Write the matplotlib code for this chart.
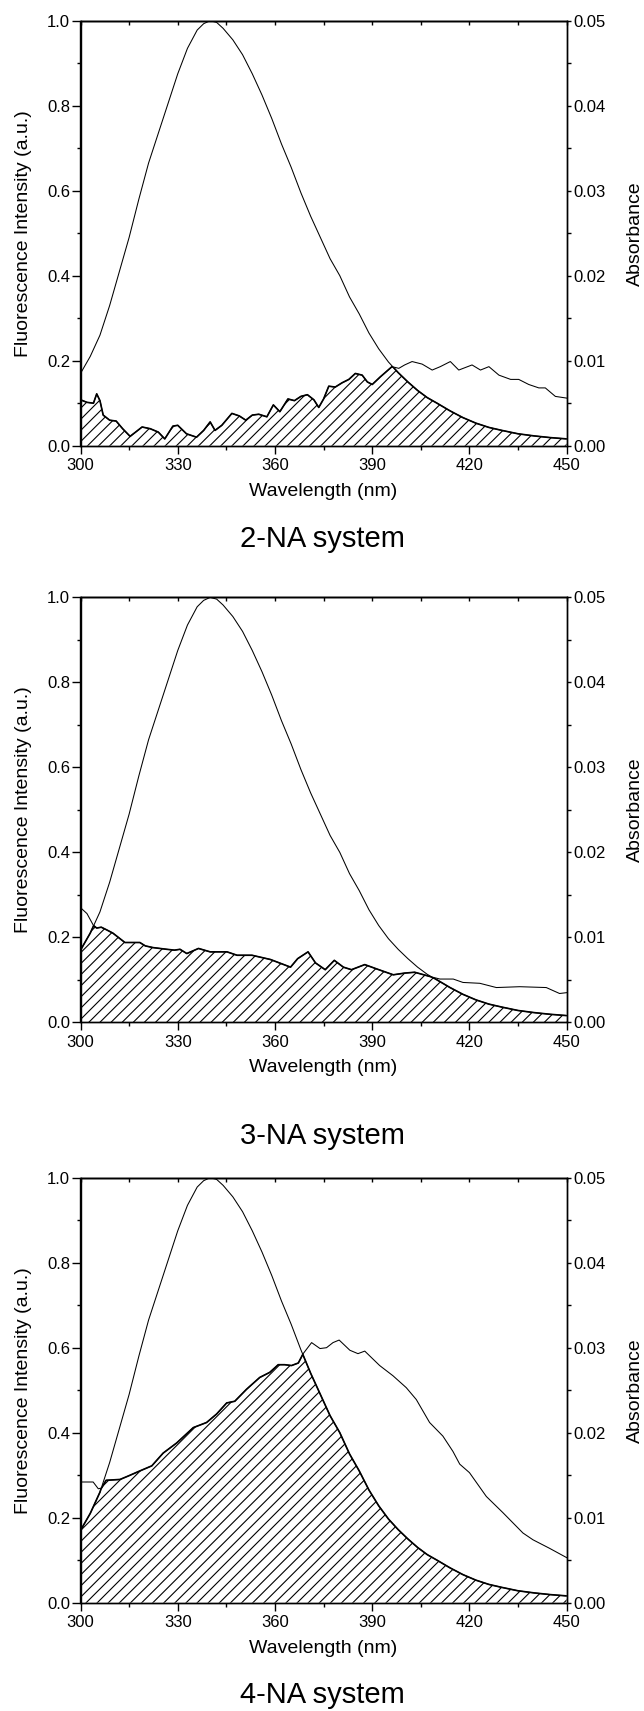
import numpy as np
import matplotlib
matplotlib.use("Agg")
import matplotlib.pyplot as plt
from matplotlib.ticker import MultipleLocator, FormatStrFormatter

plt.rcParams["font.family"] = ["Liberation Sans", "DejaVu Sans"]
plt.rcParams["hatch.linewidth"] = 0.8
plt.rcParams["axes.linewidth"] = 1.0

# donor fluorescence (normalised), same in every panel
wl_fl = [300, 303, 306, 309, 312, 315, 318, 321, 324, 327,
         330, 333, 336, 338, 340, 342, 344, 347, 350, 353,
         356, 359, 362, 365, 368, 371, 374, 377, 380, 383,
         386, 389, 392, 395, 398, 401, 404, 407, 410, 414,
         418, 422, 426, 430, 435, 440, 445, 450]
fluor = [0.17, 0.21, 0.26, 0.33, 0.41, 0.49, 0.58, 0.665, 0.735, 0.805,
         0.875, 0.935, 0.978, 0.993, 1.0, 0.996, 0.982, 0.955, 0.92, 0.875,
         0.825, 0.77, 0.71, 0.655, 0.595, 0.54, 0.49, 0.44, 0.40, 0.35,
         0.31, 0.265, 0.228, 0.197, 0.172, 0.15, 0.13, 0.113, 0.1, 0.082,
         0.066, 0.053, 0.043, 0.036, 0.028, 0.023, 0.019, 0.016]

# acceptor absorbance, 2-NA
wl_2na = [300, 302, 304, 305, 306, 307, 309, 311, 313, 315.3,
          317, 319, 321.5, 324, 326, 328.5, 330, 332.7, 335.8, 338,
          340, 341.5, 343.6, 346.7, 349, 351, 353, 355, 357.5, 359.5,
          361.5, 364, 366, 368, 370, 372, 373.5, 375, 376.6, 378.6,
          380.7, 382.8, 384.8, 386.9, 388.5, 390, 392.5, 396.1, 398.2, 400,
          402.3, 405.4, 408.5, 411, 414.1, 416.7, 420.8, 423.4, 426, 429.1,
          432.7, 435.2, 438.3, 441.4, 443.4, 446.5, 450]
abs_2na = [0.0054, 0.0051, 0.0050, 0.0061, 0.0053, 0.0036, 0.0030, 0.0029, 0.0020, 0.0011,
           0.0016, 0.0022, 0.0020, 0.0016, 0.0008, 0.0023, 0.0024, 0.0014, 0.0010, 0.0018,
           0.0028, 0.0018, 0.0024, 0.0038, 0.0035, 0.0030, 0.0036, 0.0037, 0.0034, 0.0048,
           0.0040, 0.0055, 0.0053, 0.0058, 0.0060, 0.0054, 0.0045, 0.0055, 0.0070, 0.0069,
           0.0074, 0.0078, 0.0085, 0.0083, 0.0075, 0.0072, 0.0081, 0.0093, 0.0091, 0.0095,
           0.0099, 0.0096, 0.0089, 0.0093, 0.0099, 0.0089, 0.0095, 0.0089, 0.0093, 0.0083,
           0.0078, 0.0078, 0.0072, 0.0068, 0.0068, 0.0058, 0.0056]

# acceptor absorbance, 3-NA
wl_3na = [300, 302, 304, 305, 306.4, 308, 310, 313.7, 316, 318.3,
          320, 322.4, 326.6, 329, 330.7, 332.8, 336.4, 340, 345.2, 348.3,
          352.9, 358.6, 364.8, 367, 370.2, 372.5, 375.5, 378.3, 381.1, 383.6,
          387.7, 391.3, 396.5, 400, 403.1, 407.8, 410.9, 415, 418, 423.2,
          428.3, 435.5, 443.7, 447.8, 450]
abs_3na = [0.0135, 0.0128, 0.0114, 0.0111, 0.0112, 0.0109, 0.0105, 0.0094, 0.0094, 0.0094,
           0.0090, 0.0088, 0.0086, 0.0085, 0.0086, 0.0081, 0.0087, 0.0083, 0.0083, 0.0079,
           0.0079, 0.0074, 0.0065, 0.0075, 0.0083, 0.0070, 0.0062, 0.0073, 0.0065, 0.0062,
           0.0068, 0.0063, 0.0056, 0.0058, 0.0059, 0.0054, 0.0051, 0.0051, 0.0047, 0.0046,
           0.0041, 0.0042, 0.0041, 0.0034, 0.0035]

# acceptor absorbance, 4-NA
wl_4na = [300, 303.9, 305.5, 306.5, 307.9, 312.2, 314.7, 318.3, 322, 325.5,
          329.7, 334.8, 338.9, 342, 345.1, 347.6, 351.2, 355.3, 358.4, 361,
          363, 365.1, 367.2, 368.7, 371.3, 373.9, 375.9, 377.9, 379.8, 383.1,
          385.6, 387.7, 392.3, 396.4, 400.5, 403.6, 407.7, 411.8, 414.9, 417,
          420, 425.2, 430.3, 436.5, 439.6, 444.7, 450]
abs_4na = [0.0142, 0.0142, 0.0134, 0.0135, 0.0144, 0.0145, 0.0149, 0.0155, 0.0161, 0.0176,
           0.0188, 0.0206, 0.0212, 0.0222, 0.0235, 0.0237, 0.0251, 0.0265, 0.0271, 0.0280,
           0.0280, 0.0279, 0.0282, 0.0293, 0.0306, 0.0299, 0.0300, 0.0306, 0.0309, 0.0297,
           0.0293, 0.0296, 0.0279, 0.0267, 0.0253, 0.0239, 0.0212, 0.0196, 0.0178, 0.0163,
           0.0153, 0.0125, 0.0106, 0.0082, 0.0074, 0.0064, 0.0053]

titles = ["2-NA system", "3-NA system", "4-NA system"]

W, H = 644, 1711


def draw_panel(fig, bottom_px, wl_abs, absorb, title, title_px):
    ax = fig.add_axes([80.5 / W, 1 - bottom_px / H, 486.2 / W, 425 / H])
    ax2 = ax.twinx()

    ax.plot(wl_fl, fluor, color="k", lw=0.75)
    ax2.plot(wl_abs, absorb, color="k", lw=0.75)

    # invisible areas used to clip the overlap
    fl_area = ax.fill_between(wl_fl, 0, fluor, facecolor="none", edgecolor="none", lw=0)
    ab_area = ax2.fill_between(wl_abs, 0, absorb, facecolor="none", edgecolor="none", lw=0)
    fl_path = fl_area.get_paths()[0]
    ab_path = ab_area.get_paths()[0]

    hatch = ax2.fill_between(wl_abs, 0, absorb, facecolor="none", edgecolor="k",
                             hatch="///", lw=0)
    hatch.set_clip_path(fl_path, ax.transData)

    # heavier outline along the overlap boundary
    b1, = ax.plot(wl_fl, fluor, color="k", lw=1.2)
    b1.set_clip_path(ab_path, ax2.transData)
    b2, = ax2.plot(wl_abs, absorb, color="k", lw=1.2)
    b2.set_clip_path(fl_path, ax.transData)

    ax.set_xlim(300, 450)
    ax.set_ylim(0, 1.0)
    ax2.set_ylim(0, 0.05)

    ax.xaxis.set_major_locator(MultipleLocator(30))
    ax.xaxis.set_minor_locator(MultipleLocator(15))
    ax.yaxis.set_major_locator(MultipleLocator(0.2))
    ax.yaxis.set_minor_locator(MultipleLocator(0.1))
    ax.yaxis.set_major_formatter(FormatStrFormatter("%.1f"))
    ax2.yaxis.set_major_locator(MultipleLocator(0.01))
    ax2.yaxis.set_minor_locator(MultipleLocator(0.005))
    ax2.yaxis.set_major_formatter(FormatStrFormatter("%.2f"))

    ax.tick_params(axis="x", which="major", direction="out", length=6, width=1,
                   labelsize=12, pad=3, top=False)
    ax.tick_params(axis="x", which="minor", direction="out", length=3, width=1, top=False)
    ax.tick_params(axis="y", which="major", direction="out", length=6.5, width=1,
                   labelsize=12, pad=1, right=False)
    ax.tick_params(axis="y", which="minor", direction="out", length=3, width=1, right=False)
    ax2.tick_params(axis="y", which="major", direction="out", length=3, width=1,
                    labelsize=12, pad=2)
    ax2.tick_params(axis="y", which="minor", direction="out", length=3, width=1)

    top = ax.secondary_xaxis("top")
    top.xaxis.set_major_locator(MultipleLocator(15))
    top.tick_params(direction="in", length=3, width=1, labeltop=False)

    ax.set_xlabel("Wavelength (nm)", fontsize=14)
    ax.xaxis.set_label_coords(0.5, -0.087)
    ax.set_ylabel("Fluorescence Intensity (a.u.)", fontsize=14)
    ax.yaxis.set_label_coords(-0.100, 0.5)
    ax2.set_ylabel("Absorbance", fontsize=14)
    ax2.yaxis.set_label_coords(1.123, 0.5)

    fig.text(0.5, 1 - title_px / H, title, ha="center", va="center", fontsize=21)


def main():
    fig = plt.figure(figsize=(W / 100, H / 100), dpi=100)
    draw_panel(fig, 445.7, wl_2na, abs_2na, titles[0], 539)
    draw_panel(fig, 1022.4, wl_3na, abs_3na, titles[1], 1136)
    draw_panel(fig, 1602.7, wl_4na, abs_4na, titles[2], 1695)
    fig.savefig("out.png", dpi=100)


if __name__ == "__main__":
    main()
